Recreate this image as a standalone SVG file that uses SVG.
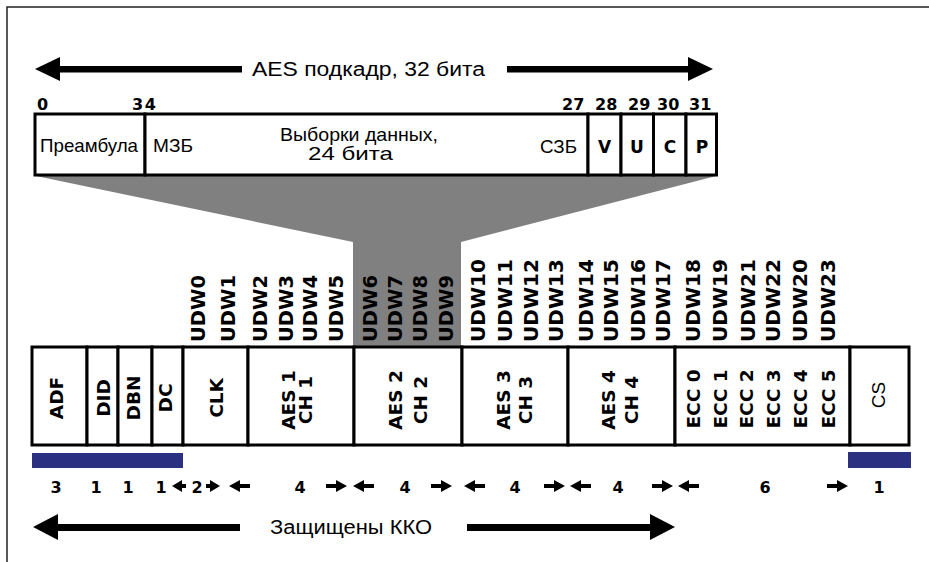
<svg xmlns="http://www.w3.org/2000/svg" width="929" height="562" viewBox="0 0 929 562">
<style>
.box{fill:#fff;stroke:#000;stroke-width:3}
.reg{font-family:"Liberation Sans",Arial,sans-serif;fill:#000}
.bold{font-family:"DejaVu Sans",Verdana,sans-serif;font-weight:bold;fill:#000}
.num{font-family:"DejaVu Sans",Verdana,sans-serif;font-weight:bold;font-size:16px;fill:#000}
.udw{font-family:"DejaVu Sans",Verdana,sans-serif;font-weight:bold;font-size:19px;fill:#000}
.lbl{font-family:"DejaVu Sans",Verdana,sans-serif;font-weight:bold;font-size:18.5px;fill:#000;text-anchor:middle}
.big{fill:#000}
.bar{fill:#2b3080}
</style>
<defs>
<path id="sal" d="M0,0 L11,-6 L11,-2 L21,-2 L21,2 L11,2 L11,6 Z"/>
<path id="salS" d="M0,0 L10,-6 L10,-2 L14,-2 L14,2 L10,2 L10,6 Z"/>
</defs>
<rect width="929" height="562" fill="#fff"/>
<!-- frame -->
<path d="M7,562 V7 H929" fill="none" stroke="#222" stroke-width="1.5"/>

<!-- gray zoom funnel -->
<polygon points="36,176 716,176 461,242 461,347 353,347 353,242" fill="#808080"/>

<!-- top title -->
<text class="reg" x="252" y="76" font-size="19.5" textLength="233" lengthAdjust="spacingAndGlyphs">AES подкадр, 32 бита</text>

<!-- bit numbers -->
<g id="bitnums">
<text class="num" x="37" y="110">0</text>
<text class="num" x="132" y="110" letter-spacing="1.5">34</text>
<text class="num" x="562" y="110">27</text>
<text class="num" x="595" y="110">28</text>
<text class="num" x="628" y="110">29</text>
<text class="num" x="657" y="110">30</text>
<text class="num" x="689" y="110">31</text>
</g>

<!-- top subframe -->
<g id="preamble">
<rect class="box" x="35" y="114" width="110" height="61"/>
<text class="reg" x="40" y="152" font-size="18.5" textLength="98" lengthAdjust="spacingAndGlyphs">Преамбула</text>
</g>
<g id="samples">
<rect class="box" x="145" y="114" width="443" height="61"/>
<text class="reg" x="153" y="152" font-size="18.5" textLength="40" lengthAdjust="spacingAndGlyphs">МЗБ</text>
<text class="reg" x="280" y="141" font-size="18.5" textLength="158" lengthAdjust="spacingAndGlyphs">Выборки данных,</text>
<text class="reg" x="308" y="160" font-size="18.5" textLength="85" lengthAdjust="spacingAndGlyphs">24 бита</text>
<text class="reg" x="540" y="153" font-size="18.5" textLength="37" lengthAdjust="spacingAndGlyphs">СЗБ</text>
</g>
<g id="bitV">
<rect class="box" x="588" y="114" width="33" height="61"/>
<text class="bold" x="604.5" y="153" font-size="17" text-anchor="middle">V</text>
</g>
<g id="bitU">
<rect class="box" x="621" y="114" width="32.5" height="61"/>
<text class="bold" x="637" y="153" font-size="17" text-anchor="middle">U</text>
</g>
<g id="bitC">
<rect class="box" x="653.5" y="114" width="32.5" height="61"/>
<text class="bold" x="670" y="153" font-size="17" text-anchor="middle">C</text>
</g>
<g id="bitP">
<rect class="box" x="686" y="114" width="30.5" height="61"/>
<text class="bold" x="702" y="153" font-size="17" text-anchor="middle">P</text>
</g>

<!-- UDW labels -->
<g id="udw-labels">
<text class="udw" transform="translate(205,342) rotate(-90)" textLength="67" lengthAdjust="spacingAndGlyphs">UDW0</text>
<text class="udw" transform="translate(235,342) rotate(-90)" textLength="67" lengthAdjust="spacingAndGlyphs">UDW1</text>
<text class="udw" transform="translate(267,342) rotate(-90)" textLength="67" lengthAdjust="spacingAndGlyphs">UDW2</text>
<text class="udw" transform="translate(293,342) rotate(-90)" textLength="67" lengthAdjust="spacingAndGlyphs">UDW3</text>
<text class="udw" transform="translate(317,342) rotate(-90)" textLength="67" lengthAdjust="spacingAndGlyphs">UDW4</text>
<text class="udw" transform="translate(343,342) rotate(-90)" textLength="67" lengthAdjust="spacingAndGlyphs">UDW5</text>
<text class="udw" transform="translate(377,342) rotate(-90)" textLength="67" lengthAdjust="spacingAndGlyphs">UDW6</text>
<text class="udw" transform="translate(402,342) rotate(-90)" textLength="67" lengthAdjust="spacingAndGlyphs">UDW7</text>
<text class="udw" transform="translate(427,342) rotate(-90)" textLength="67" lengthAdjust="spacingAndGlyphs">UDW8</text>
<text class="udw" transform="translate(453,342) rotate(-90)" textLength="67" lengthAdjust="spacingAndGlyphs">UDW9</text>
<text class="udw" transform="translate(485,342) rotate(-90)" textLength="83" lengthAdjust="spacingAndGlyphs">UDW10</text>
<text class="udw" transform="translate(512,342) rotate(-90)" textLength="83" lengthAdjust="spacingAndGlyphs">UDW11</text>
<text class="udw" transform="translate(538,342) rotate(-90)" textLength="83" lengthAdjust="spacingAndGlyphs">UDW12</text>
<text class="udw" transform="translate(563,342) rotate(-90)" textLength="83" lengthAdjust="spacingAndGlyphs">UDW13</text>
<text class="udw" transform="translate(593,342) rotate(-90)" textLength="83" lengthAdjust="spacingAndGlyphs">UDW14</text>
<text class="udw" transform="translate(618,342) rotate(-90)" textLength="83" lengthAdjust="spacingAndGlyphs">UDW15</text>
<text class="udw" transform="translate(645,342) rotate(-90)" textLength="83" lengthAdjust="spacingAndGlyphs">UDW16</text>
<text class="udw" transform="translate(670,342) rotate(-90)" textLength="83" lengthAdjust="spacingAndGlyphs">UDW17</text>
<text class="udw" transform="translate(700,342) rotate(-90)" textLength="83" lengthAdjust="spacingAndGlyphs">UDW18</text>
<text class="udw" transform="translate(727,342) rotate(-90)" textLength="83" lengthAdjust="spacingAndGlyphs">UDW19</text>
<text class="udw" transform="translate(755,342) rotate(-90)" textLength="83" lengthAdjust="spacingAndGlyphs">UDW21</text>
<text class="udw" transform="translate(780,342) rotate(-90)" textLength="83" lengthAdjust="spacingAndGlyphs">UDW22</text>
<text class="udw" transform="translate(807,342) rotate(-90)" textLength="83" lengthAdjust="spacingAndGlyphs">UDW20</text>
<text class="udw" transform="translate(835,342) rotate(-90)" textLength="83" lengthAdjust="spacingAndGlyphs">UDW23</text>
</g>

<!-- bottom packet -->
<g id="ADF">
<rect class="box" x="32" y="347" width="55" height="98"/>
<text class="lbl" transform="translate(63,398) rotate(-90)">ADF</text>
</g>
<g id="DID">
<rect class="box" x="87" y="347" width="31" height="98"/>
<text class="lbl" transform="translate(110,398) rotate(-90)">DID</text>
</g>
<g id="DBN">
<rect class="box" x="118" y="347" width="34" height="98"/>
<text class="lbl" transform="translate(140,398) rotate(-90)">DBN</text>
</g>
<g id="DC">
<rect class="box" x="152" y="347" width="31" height="98"/>
<text class="lbl" transform="translate(172,398) rotate(-90)">DC</text>
</g>
<g id="CLK">
<rect class="box" x="183" y="347" width="65" height="98"/>
<text class="lbl" transform="translate(223,398) rotate(-90)">CLK</text>
</g>
<g id="AES1">
<rect class="box" x="248" y="347" width="106" height="98"/>
<text class="lbl" transform="translate(295,400) rotate(-90)">AES 1</text>
<text class="lbl" transform="translate(312,400) rotate(-90)">CH 1</text>
</g>
<g id="AES2">
<rect class="box" x="354" y="347" width="108" height="98"/>
<text class="lbl" transform="translate(402,400) rotate(-90)">AES 2</text>
<text class="lbl" transform="translate(427,400) rotate(-90)">CH 2</text>
</g>
<g id="AES3">
<rect class="box" x="462" y="347" width="106" height="98"/>
<text class="lbl" transform="translate(510,400) rotate(-90)">AES 3</text>
<text class="lbl" transform="translate(532,400) rotate(-90)">CH 3</text>
</g>
<g id="AES4">
<rect class="box" x="568" y="347" width="107" height="98"/>
<text class="lbl" transform="translate(615,400) rotate(-90)">AES 4</text>
<text class="lbl" transform="translate(638,400) rotate(-90)">CH 4</text>
</g>
<g id="ECC">
<rect class="box" x="675" y="347" width="175" height="98"/>
<text class="lbl" transform="translate(700,399) rotate(-90)">ECC 0</text>
<text class="lbl" transform="translate(727,399) rotate(-90)">ECC 1</text>
<text class="lbl" transform="translate(753,399) rotate(-90)">ECC 2</text>
<text class="lbl" transform="translate(780,399) rotate(-90)">ECC 3</text>
<text class="lbl" transform="translate(807,399) rotate(-90)">ECC 4</text>
<text class="lbl" transform="translate(835,399) rotate(-90)">ECC 5</text>
</g>
<g id="CS">
<rect class="box" x="850" y="347" width="59" height="98"/>
<text class="reg" font-size="19" text-anchor="middle" transform="translate(885,395) rotate(-90)">CS</text>
</g>

<!-- ECC-protected bars -->
<rect class="bar" x="32" y="453" width="151" height="15"/>
<rect class="bar" x="848" y="452" width="63" height="16"/>

<!-- word counts -->
<g id="counts">
<text class="num" font-size="17.5" x="56" y="493" text-anchor="middle">3</text>
<text class="num" font-size="17.5" x="96" y="493" text-anchor="middle">1</text>
<text class="num" font-size="17.5" x="128" y="493" text-anchor="middle">1</text>
<text class="num" font-size="17.5" x="161" y="493" text-anchor="middle">1</text>
<text class="num" font-size="17.5" x="197" y="493" text-anchor="middle">2</text>
<text class="num" font-size="17.5" x="300" y="493" text-anchor="middle">4</text>
<text class="num" font-size="17.5" x="405" y="493" text-anchor="middle">4</text>
<text class="num" font-size="17.5" x="515" y="493" text-anchor="middle">4</text>
<text class="num" font-size="17.5" x="618" y="493" text-anchor="middle">4</text>
<text class="num" font-size="17.5" x="765" y="493" text-anchor="middle">6</text>
<text class="num" font-size="17.5" x="879" y="493" text-anchor="middle">1</text>
</g>

<!-- bottom label -->
<text class="reg" x="270" y="534" font-size="19.5" textLength="162" lengthAdjust="spacingAndGlyphs">Защищены ККО</text>

<!-- connectors -->
<g id="connectors">
<!-- top span arrows -->
<rect class="big" x="58" y="66" width="184" height="6.5"/>
<polygon class="big" points="35,69 60,57 60,81"/>
<rect class="big" x="507" y="66" width="183" height="6.5"/>
<polygon class="big" points="713,69 688,57 688,81"/>
<!-- bottom span arrows -->
<rect class="big" x="56" y="524" width="184" height="7"/>
<polygon class="big" points="33,527 58,514 58,540"/>
<rect class="big" x="467" y="524" width="185" height="7"/>
<polygon class="big" points="675,527 650,514 650,540"/>
<!-- small dimension arrows -->
<use href="#salS" transform="translate(172,486)"/>
<use href="#salS" transform="translate(220,486) scale(-1,1)"/>
<use href="#sal" transform="translate(229,486)"/>
<use href="#sal" transform="translate(347,486) scale(-1,1)"/>
<use href="#sal" transform="translate(353,486)"/>
<use href="#sal" transform="translate(452,486) scale(-1,1)"/>
<use href="#sal" transform="translate(464,486)"/>
<use href="#sal" transform="translate(565,486) scale(-1,1)"/>
<use href="#sal" transform="translate(570,486)"/>
<use href="#sal" transform="translate(673,486) scale(-1,1)"/>
<use href="#sal" transform="translate(678,486)"/>
<use href="#sal" transform="translate(848,486) scale(-1,1)"/>
</g>
</svg>
